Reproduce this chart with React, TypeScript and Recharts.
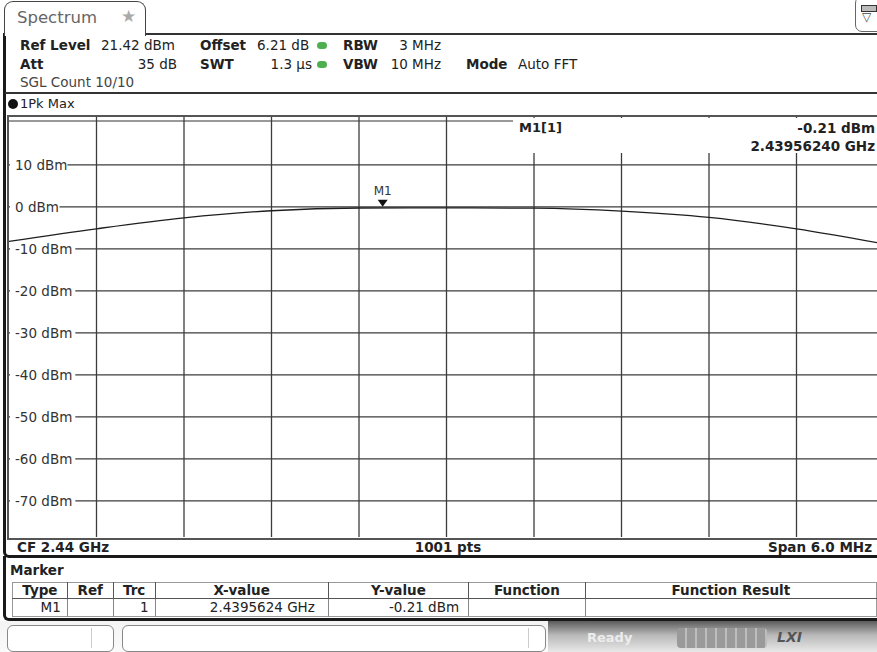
import React from 'react';
import { LineChart, Line, XAxis, YAxis, ReferenceLine, ReferenceDot } from 'recharts';

// trace, one value per grid division (GHz / dBm)
const freqGHz = [2.437, 2.4376, 2.4382, 2.4388, 2.4394, 2.44, 2.4406, 2.4412, 2.4418, 2.4424, 2.443];
const levelDbm = [-8.2, -5.2, -2.6, -0.9, -0.25, -0.2, -0.3, -1.0, -2.5, -5.2, -8.8];

const gridFreqs = [2.4376, 2.4382, 2.4388, 2.4394, 2.44, 2.4406, 2.4412, 2.4418, 2.4424];
const gridLevels = [10, 0, -10, -20, -30, -40, -50, -60, -70];
const freqRange = [2.437, 2.443];
const levelRange = [-78.58, 21.42];

const markerFreq = 2.4395624;
const markerLevel = -0.21;

const tableHeads = ['Type', 'Ref', 'Trc', 'X-value', 'Y-value', 'Function', 'Function Result'];
const tableRow = ['M1', '', '1', '2.4395624 GHz', '-0.21 dBm', '', ''];
const colWidths = [55, 46, 42, 174, 141, 117, 293];
const rowAlign: ('right' | 'center')[] = ['right', 'right', 'right', 'right', 'right', 'center', 'center'];
const rowPad = ['0 6px 0 0', '0 4px', '0 6px 0 0', '0 13px 0 0', '0 9px 0 0', '0 4px', '0 4px'];

const trace = freqGHz.map((f, i) => ({ freq: f, level: levelDbm[i] }));

const SANS = '"DejaVu Sans", Verdana, sans-serif';

const LevelLabel = ({ viewBox, text }: any) => {
  if (!viewBox) return null;
  const w = text.length * 7.9 + 10;
  return (
    <g>
      <rect x={viewBox.x + 1} y={viewBox.y - 8} width={w} height={16} fill="#fff" />
      <text x={viewBox.x + 6} y={viewBox.y} dy="0.35em" fontSize={13.5} fontFamily={SANS} fill="#333">
        {text}
      </text>
    </g>
  );
};

const MarkerShape = ({ cx, cy }: any) => (
  <g>
    <polygon points={`${cx},${cy - 1} ${cx - 5},${cy - 8} ${cx + 5},${cy - 8}`} fill="#111" />
    <text x={cx} y={cy - 13} textAnchor="middle" fontSize={12} fontFamily={SANS} fill="#333">M1</text>
  </g>
);

const abs = (left: number, top: number, extra: React.CSSProperties = {}): React.CSSProperties => ({
  position: 'absolute',
  left,
  top,
  whiteSpace: 'nowrap',
  ...extra,
});

const Dot = ({ left, top }: { left: number; top: number }) => (
  <div style={abs(left, top, { width: 10, height: 7, borderRadius: 5, background: '#4fae4f' })} />
);

export default function App() {
  const hdr: React.CSSProperties = { fontFamily: SANS, fontSize: 13.5, color: '#222', lineHeight: '16px' };
  const b: React.CSSProperties = { fontWeight: 'bold' };
  const foot: React.CSSProperties = { ...hdr, fontWeight: 'bold', fontSize: 13.5 };

  return (
    <div style={{ position: 'absolute', left: 0, top: 0, width: 877, height: 652, overflow: 'hidden', background: '#fff' }}>
      {/* window frame */}
      <div style={abs(3, 33, { width: 900, height: 520, borderTop: '2px solid #333', borderLeft: '3px solid #1a1a1a', borderBottom: '3px solid #1a1a1a', borderBottomLeftRadius: 6 })} />
      {/* tab */}
      <div style={abs(4, 1, { width: 140, height: 34, border: '1.5px solid #444', borderBottom: 'none', borderTopLeftRadius: 9, borderTopRightRadius: 9, background: '#fff' })}>
        <span style={abs(12, 6, { fontFamily: SANS, fontSize: 16.5, color: '#666' })}>Spectrum</span>
        <span style={abs(116, 4, { fontFamily: SANS, fontSize: 17, color: '#aaa' })}>★</span>
      </div>
      {/* top right icon */}
      <div style={abs(855, -4, { width: 32, height: 34, border: '1.5px solid #666', borderRadius: 7, background: '#fff' })}>
        <div style={abs(5, 8, { width: 14, height: 5, border: '1.5px solid #333', background: '#bbb' })} />
        <span style={abs(6, 13, { fontFamily: SANS, fontSize: 12, color: '#444' })}>▽</span>
      </div>

      {/* header */}
      <div style={abs(20, 37, { ...hdr, ...b })}>Ref Level</div>
      <div style={abs(101, 37, hdr)}>21.42 dBm</div>
      <div style={abs(200, 37, { ...hdr, ...b })}>Offset</div>
      <div style={abs(257, 37, hdr)}>6.21 dB</div>
      <Dot left={317} top={42} />
      <div style={abs(343, 37, { ...hdr, ...b })}>RBW</div>
      <div style={abs(341, 37, { ...hdr, width: 100, textAlign: 'right' })}>3 MHz</div>

      <div style={abs(20, 56, { ...hdr, ...b })}>Att</div>
      <div style={abs(77, 56, { ...hdr, width: 100, textAlign: 'right' })}>35 dB</div>
      <div style={abs(200, 56, { ...hdr, ...b })}>SWT</div>
      <div style={abs(212, 56, { ...hdr, width: 100, textAlign: 'right' })}>1.3 µs</div>
      <Dot left={317} top={61} />
      <div style={abs(343, 56, { ...hdr, ...b })}>VBW</div>
      <div style={abs(341, 56, { ...hdr, width: 100, textAlign: 'right' })}>10 MHz</div>
      <div style={abs(466, 56, { ...hdr, ...b })}>Mode</div>
      <div style={abs(518, 56, hdr)}>Auto FFT</div>

      <div style={abs(20, 74, { ...hdr, color: '#444' })}>SGL Count 10/10</div>
      <div style={abs(5, 92, { width: 880, height: 2, background: '#333' })} />

      <div style={abs(8, 99, { width: 10, height: 10, borderRadius: 5, background: '#111' })} />
      <div style={abs(20, 96, { ...hdr, fontSize: 13 })}>1Pk Max</div>

      {/* plot frame */}
      <div style={abs(7, 115, { width: 890, height: 421, borderTop: '2px solid #555', borderLeft: '2px solid #555', borderBottom: '2px solid #555' })} />
      <div style={abs(9, 120, { width: 880, height: 2, background: '#999' })} />

      <div style={abs(9, 117)}>
        <LineChart width={875} height={420} data={trace} margin={{ top: 0, right: 0, bottom: 0, left: 0 }}>
          <XAxis type="number" dataKey="freq" domain={freqRange} hide allowDataOverflow />
          <YAxis type="number" domain={levelRange} hide allowDataOverflow />
          {gridLevels.map((v) => (
            <ReferenceLine
              key={'h' + v}
              y={v}
              stroke="#3c3c3c"
              strokeWidth={1.3}
              label={(p: any) => <LevelLabel viewBox={p.viewBox} text={`${v} dBm`} />}
            />
          ))}
          {gridFreqs.map((f) => (
            <ReferenceLine key={'v' + f} x={f} stroke="#3c3c3c" strokeWidth={1.3} />
          ))}
          <Line type="monotone" dataKey="level" stroke="#1e1e1e" strokeWidth={1.3} dot={false} isAnimationActive={false} />
          <ReferenceDot x={markerFreq} y={markerLevel} r={4} shape={MarkerShape} />
        </LineChart>
      </div>

      {/* marker info box */}
      <div style={abs(513, 118, { width: 372, height: 35, background: '#fff' })}>
        <div style={abs(6, 2, { ...hdr, ...b, fontSize: 13 })}>M1[1]</div>
        <div style={abs(162, 2, { ...hdr, ...b, width: 200, textAlign: 'right' })}>{`${markerLevel.toFixed(2)} dBm`}</div>
        <div style={abs(162, 20, { ...hdr, ...b, width: 200, textAlign: 'right' })}>{`${markerFreq.toFixed(8)} GHz`}</div>
      </div>

      {/* footer of diagram */}
      <div style={abs(17, 539, foot)}>CF 2.44 GHz</div>
      <div style={abs(348, 539, { ...foot, width: 200, textAlign: 'center' })}>1001 pts</div>
      <div style={abs(672, 539, { ...foot, width: 200, textAlign: 'right' })}>Span 6.0 MHz</div>

      {/* marker table panel */}
      <div style={abs(3, 556, { width: 900, height: 62, borderLeft: '3px solid #1a1a1a', borderBottom: '3px solid #1a1a1a', borderBottomLeftRadius: 6 })} />
      <div style={abs(10, 562, foot)}>Marker</div>
      <table style={{ position: 'absolute', left: 12, top: 582, borderCollapse: 'collapse', tableLayout: 'fixed', fontFamily: SANS, color: '#222', border: '1px solid #999' }}>
        <colgroup>
          {colWidths.map((w, i) => <col key={i} style={{ width: w }} />)}
        </colgroup>
        <tbody>
          <tr style={{ height: 15 }}>
            {tableHeads.map((h, i) => (
              <td key={i} style={{ padding: 0, fontWeight: 'bold', fontSize: 13.5, lineHeight: '15px', textAlign: 'center', borderLeft: i ? '1.5px solid #555' : 'none', borderBottom: '1.5px solid #555', overflow: 'hidden' }}>{h}</td>
            ))}
          </tr>
          <tr style={{ height: 17 }}>
            {tableRow.map((c, i) => (
              <td key={i} style={{ padding: rowPad[i], fontSize: 13.5, lineHeight: '17px', textAlign: rowAlign[i], borderLeft: i ? '1px solid #888' : 'none', overflow: 'hidden' }}>{c}</td>
            ))}
          </tr>
        </tbody>
      </table>

      {/* status bar */}
      <div style={abs(0, 621, { width: 877, height: 31, background: 'linear-gradient(#f4f4f4, #fafafa)' })} />
      <div style={abs(548, 621, { width: 329, height: 31, background: 'linear-gradient(#5c5c5c 0%, #b8b8b8 45%, #e8e8e8 100%)' })} />
      <div style={abs(7, 625, { width: 105, height: 25, border: '1px solid #888', borderRadius: 6, background: '#fff' })}>
        <div style={abs(83, 2, { width: 1, height: 20, background: '#ccc' })} />
      </div>
      <div style={abs(122, 625, { width: 422, height: 25, border: '1px solid #888', borderRadius: 6, background: '#fff' })}>
        <div style={abs(405, 2, { width: 1, height: 20, background: '#ccc' })} />
      </div>
      <div style={abs(587, 630, { fontFamily: SANS, fontWeight: 'bold', fontSize: 13, color: '#ededed', lineHeight: '16px' })}>Ready</div>
      <div style={abs(677, 628, { width: 90, height: 20, borderRadius: 4, background: 'repeating-linear-gradient(90deg, #9a9a9a 0px, #9a9a9a 8px, #bdbdbd 8px, #bdbdbd 10px)' })} />
      <div style={abs(777, 628, { fontFamily: SANS, fontWeight: 'bold', fontStyle: 'italic', fontSize: 14, color: '#555', lineHeight: '18px' })}>LXI</div>
    </div>
  );
}
